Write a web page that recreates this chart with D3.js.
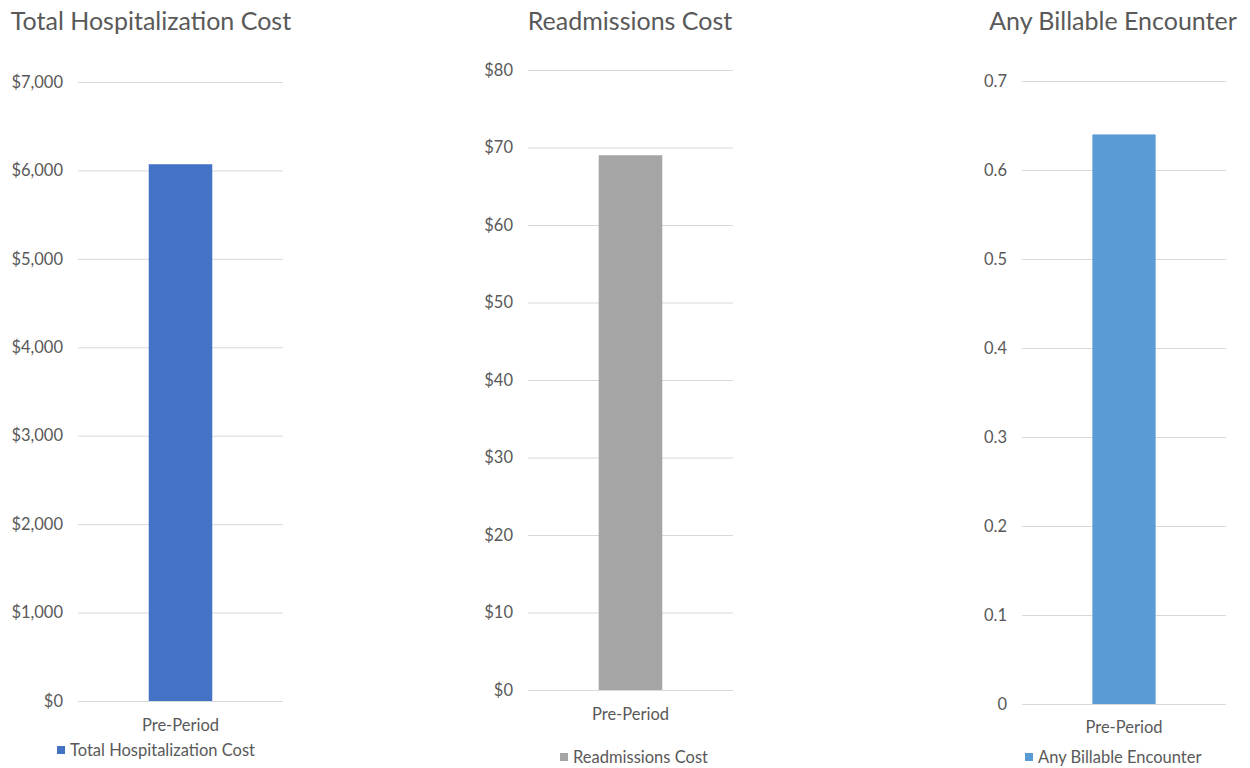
<!DOCTYPE html>
<html><head><meta charset="utf-8">
<script src="https://cdn.jsdelivr.net/npm/d3@7"></script>
<style>body{margin:0;background:#fff;} text{font-family:Lato,"Open Sans",sans-serif;fill:#595959;}</style>
</head><body>
<svg id="c" width="1250" height="768"></svg>
<script>
const titles = ["Total Hospitalization Cost", "Readmissions Cost", "Any Billable Encounter"];
const categories = ["Pre-Period"];
const values = [6070, 69, 0.64];
const yMax = [7000, 80, 0.7];
const tickStep = [1000, 10, 0.1];
const colors = ["#4472C4", "#A5A5A5", "#5B9BD5"];
const formats = ["$,.0f", "$,.0f", ".1~f"];

const layout = [
  {x0:78, x1:283, yTop:82, yBot:701, titleX:151, catY:725, legY:750, legX:57},
  {x0:528, x1:733, yTop:70, yBot:690, titleX:630, catY:714, legY:757, legX:560},
  {x0:1022, x1:1226, yTop:81, yBot:704, titleX:1113, catY:727, legY:757, legX:1025}
];
const svg = d3.select("#c");
titles.forEach((t,i)=>{
  const L = layout[i];
  const g = svg.append("g");
  const y = d3.scaleLinear().domain([0,yMax[i]]).range([L.yBot,L.yTop]);
  const x = d3.scaleBand().domain(categories).range([L.x0,L.x1]).paddingInner(0.69).paddingOuter(0.345);
  const ticks = d3.range(0, yMax[i]+tickStep[i]/2, tickStep[i]);
  const ax = d3.axisLeft(y).tickValues(ticks).tickFormat(d=>{ const s=d3.format(formats[i])(d); return s==="0.0"?"0":s;}).tickSize(-(L.x1-L.x0)).tickPadding(15);
  const ag = g.append("g").attr("transform",`translate(${L.x0},0)`).call(ax);
  ag.select(".domain").remove();
  ag.selectAll("line").attr("stroke","#D9D9D9").attr("stroke-width",1);
  ag.selectAll("text").style("font-size","16.5px").attr("fill","#595959");
  g.selectAll("rect.bar").data(categories).enter().append("rect")
    .attr("x",d=>x(d)).attr("width",x.bandwidth())
    .attr("y",y(values[i])).attr("height",L.yBot-y(values[i])).attr("fill",colors[i]);
  g.selectAll("text.cat").data(categories).enter().append("text")
    .attr("x",d=>x(d)+x.bandwidth()/2).attr("y",L.catY).attr("text-anchor","middle")
    .attr("dominant-baseline","central").style("font-size","16.5px").text(d=>d);
  g.append("text").attr("x",L.titleX).attr("y",20).attr("text-anchor","middle")
    .attr("dominant-baseline","central").style("font-size","25px").text(t);
  g.append("rect").attr("x",L.legX).attr("y",L.legY-4).attr("width",8).attr("height",8).attr("fill",colors[i]);
  g.append("text").attr("x",L.legX+13).attr("y",L.legY).attr("dominant-baseline","central").style("font-size","16.5px").text(t);
});
</script>
</body></html>
